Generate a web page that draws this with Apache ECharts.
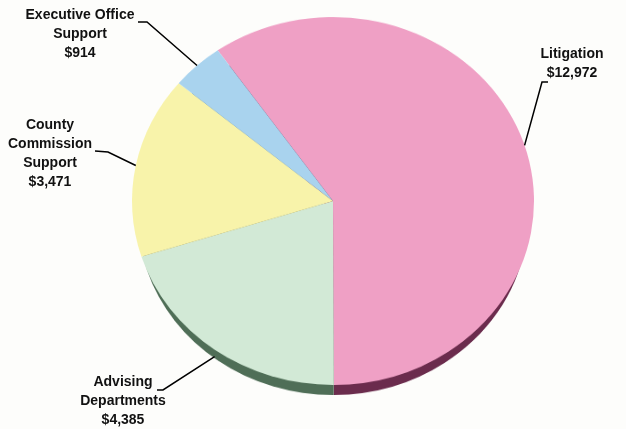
<!DOCTYPE html>
<html>
<head>
<meta charset="utf-8">
<script src="https://cdn.jsdelivr.net/npm/echarts@6/dist/echarts.min.js"></script>
<style>
  html, body { margin: 0; padding: 0; background: #fdfdfb; }
  #wrap { position: relative; width: 626px; height: 429px; overflow: hidden; background: #fdfdfb; }
  #disc, #text { position: absolute; left: 0; top: 0; width: 626px; height: 429px; }
  /* the disc is squashed vertically to give the tilted, elliptical pie */
  #disc { transform: scaleY(0.915); transform-origin: 0 201px; }
</style>
</head>
<body>
<div id="wrap"><div id="disc"></div><div id="text"></div></div>
<script>
// Budget shares by function (dollars in thousands)
const categories = ['Litigation', 'Advising Departments', 'County Commission Support', 'Executive Office Support'];
const labelNames = ['Litigation', 'Advising\nDepartments', 'County\nCommission\nSupport', 'Executive Office\nSupport'];
const values = [12972, 4385, 3471, 914];

const faceColors = ['#efa0c5', '#d2e9d6', '#f8f3aa', '#a9d3ee'];
const edgeColors = ['#6b2c4d', '#4f6e57', '#8a8650', '#5a7f99'];

const CX = 333, CY = 201, R = 201, K = 0.915, START = 125;
// the rim is a slightly smaller disc pushed down, so it only shows along the lower curve
const RIM_DROP = 17, RIM_SHRINK = 6;

// label block centres and leader-line bends for each slice
const labelSpots = [
  { x: 572, y: 64,  bend: [542, 82],  end: [548, 82],  tip: 0 },
  { x: 123, y: 401, bend: [163, 390], end: [157, 390], tip: 7 },
  { x: 50,  y: 154, bend: [108, 152], end: [95, 151],  tip: 0 },
  { x: 80,  y: 34,  bend: [147, 22],  end: [138, 22],  tip: 0 }
];

function pieBase(center, radius, colors, z) {
  return {
    type: 'pie',
    center: center,
    radius: radius,
    startAngle: START,
    clockwise: true,
    silent: true,
    animation: false,
    z: z,
    label: { show: false },
    labelLine: { show: false },
    emphasis: { disabled: true },
    itemStyle: { borderWidth: 0 },
    data: values.map((v, i) => ({ name: categories[i], value: v, itemStyle: { color: colors[i] } }))
  };
}

const disc = echarts.init(document.getElementById('disc'), null, { renderer: 'canvas' });
disc.setOption({
  animation: false,
  series: [
    pieBase([CX, CY + RIM_DROP], R - RIM_SHRINK, edgeColors, 1),
    pieBase([CX, CY], R, faceColors, 2)
  ]
});

const text = echarts.init(document.getElementById('text'), null, { renderer: 'canvas' });
const labelSeries = pieBase([CX, CY], R, values.map(() => 'rgba(0,0,0,0)'), 3);
labelSeries.label = {
  show: true,
  position: 'outside',
  formatter: p => labelNames[p.dataIndex] + '\n$' + p.value.toLocaleString('en-US'),
  fontFamily: 'Liberation Sans, Arial, sans-serif',
  fontWeight: 'bold',
  fontSize: 14,
  lineHeight: 19,
  color: '#111',
  align: 'center'
};
labelSeries.labelLine = { show: true, smooth: false, lineStyle: { color: '#000', width: 1.5 } };
labelSeries.avoidLabelOverlap = false;
labelSeries.labelLayout = function (params) {
  const s = labelSpots[params.dataIndex];
  const p0 = params.labelLinePoints[0];
  // project the circle edge point onto the squashed ellipse
  const tipPt = [p0[0], CY + (p0[1] - CY) * K + s.tip];
  return {
    x: s.x,
    y: s.y,
    align: 'center',
    verticalAlign: 'middle',
    labelLinePoints: [tipPt, s.bend, s.end]
  };
};
text.setOption({ animation: false, series: [labelSeries] });
</script>
</body>
</html>
